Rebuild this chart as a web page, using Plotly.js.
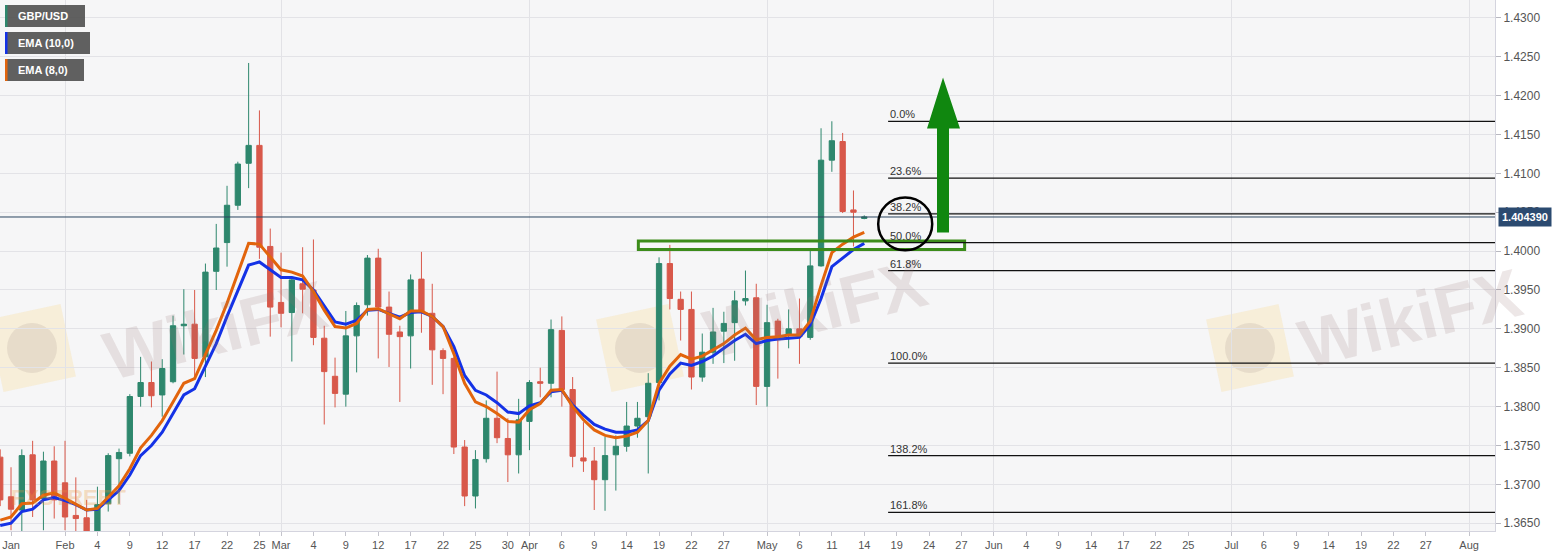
<!DOCTYPE html>
<html>
<head>
<meta charset="utf-8">
<script src="https://cdn.plot.ly/plotly-3.0.1.min.js"></script>
<style>
  html, body { margin: 0; padding: 0; background: #ffffff; }
  #myDiv { width: 1566px; height: 556px; }
</style>
</head>
<body>
<div id="myDiv"></div>
<script>
// GBP/USD daily
const dates = [
    '2021-01-22', '2021-01-25', '2021-01-26', '2021-01-27', '2021-01-28', '2021-01-29',
    '2021-02-01', '2021-02-02', '2021-02-03', '2021-02-04', '2021-02-05',
    '2021-02-08', '2021-02-09', '2021-02-10', '2021-02-11', '2021-02-12',
    '2021-02-15', '2021-02-16', '2021-02-17', '2021-02-18', '2021-02-19',
    '2021-02-22', '2021-02-23', '2021-02-24', '2021-02-25', '2021-02-26',
    '2021-03-01', '2021-03-02', '2021-03-03', '2021-03-04', '2021-03-05',
    '2021-03-08', '2021-03-09', '2021-03-10', '2021-03-11', '2021-03-12',
    '2021-03-15', '2021-03-16', '2021-03-17', '2021-03-18', '2021-03-19',
    '2021-03-22', '2021-03-23', '2021-03-24', '2021-03-25', '2021-03-26',
    '2021-03-29', '2021-03-30', '2021-03-31', '2021-04-01', '2021-04-02',
    '2021-04-05', '2021-04-06', '2021-04-07', '2021-04-08', '2021-04-09',
    '2021-04-12', '2021-04-13', '2021-04-14', '2021-04-15', '2021-04-16',
    '2021-04-19', '2021-04-20', '2021-04-21', '2021-04-22', '2021-04-23',
    '2021-04-26', '2021-04-27', '2021-04-28', '2021-04-29', '2021-04-30',
    '2021-05-03', '2021-05-04', '2021-05-05', '2021-05-06', '2021-05-07',
    '2021-05-10', '2021-05-11', '2021-05-12', '2021-05-13', '2021-05-14'
];

const open = [
    1.3735, 1.3684, 1.3667, 1.3738, 1.3682, 1.3730,
    1.3702, 1.3660, 1.3657, 1.3632, 1.3675,
    1.3733, 1.3740, 1.3813, 1.3831, 1.3815,
    1.3832, 1.3904, 1.3906, 1.3864, 1.3974,
    1.4011, 1.4059, 1.4113, 1.4136, 1.4006,
    1.3934, 1.3921, 1.3958, 1.3950, 1.3888,
    1.3839, 1.3816, 1.3891, 1.3931, 1.3991,
    1.3928, 1.3896, 1.3891, 1.3964, 1.3920,
    1.3872, 1.3862, 1.3748, 1.3685, 1.3733,
    1.3785, 1.3759, 1.3738, 1.3781, 1.3832,
    1.3830, 1.3898, 1.3822, 1.3734, 1.3730,
    1.3706, 1.3738, 1.3749, 1.3775, 1.3787,
    1.3831, 1.3984, 1.3938, 1.3925, 1.3838,
    1.3870, 1.3897, 1.3908, 1.3936, 1.3940,
    1.3826, 1.3910, 1.3893, 1.3900, 1.3889,
    1.3981, 1.4117, 1.4141, 1.4053, 1.4042
];

const high = [
    1.3745, 1.3722, 1.3745, 1.3756, 1.3742, 1.3749,
    1.3756, 1.3709, 1.3680, 1.3697, 1.3740,
    1.3746, 1.3816, 1.3864, 1.3858, 1.3861,
    1.3917, 1.3951, 1.3950, 1.3984, 1.4035,
    1.4084, 1.4115, 1.4242, 1.4181, 1.4029,
    1.3998, 1.3965, 1.4005, 1.4015, 1.3904,
    1.3863, 1.3923, 1.3934, 1.3995, 1.4003,
    1.3948, 1.3904, 1.3970, 1.3999, 1.3958,
    1.3875, 1.3864, 1.3757, 1.3744, 1.3808,
    1.3845, 1.3785, 1.3810, 1.3834, 1.3850,
    1.3912, 1.3916, 1.3838, 1.3780, 1.3748,
    1.3761, 1.3763, 1.3806, 1.3806, 1.3843,
    1.3992, 1.4008, 1.3948, 1.3948, 1.3894,
    1.3927, 1.3922, 1.3949, 1.3975, 1.3958,
    1.3931, 1.3913, 1.3925, 1.3939, 1.4001,
    1.4158, 1.4167, 1.4152, 1.4078, 1.4046
];

const low = [
    1.3672, 1.3641, 1.3640, 1.3658, 1.3641, 1.3656,
    1.3641, 1.3637, 1.3620, 1.3620, 1.3665,
    1.3675, 1.3736, 1.3800, 1.3799, 1.3787,
    1.3830, 1.3867, 1.3837, 1.3838, 1.3950,
    1.3980, 1.4053, 1.4081, 1.3990, 1.3890,
    1.3902, 1.3858, 1.3920, 1.3879, 1.3777,
    1.3799, 1.3800, 1.3844, 1.3917, 1.3862,
    1.3851, 1.3806, 1.3849, 1.3895, 1.3828,
    1.3816, 1.3739, 1.3672, 1.3669, 1.3728,
    1.3753, 1.3703, 1.3714, 1.3744, 1.3812,
    1.3812, 1.3800, 1.3722, 1.3716, 1.3667,
    1.3666, 1.3692, 1.3742, 1.3760, 1.3714,
    1.3808, 1.3925, 1.3885, 1.3822, 1.3832,
    1.3855, 1.3856, 1.3859, 1.3930, 1.3802,
    1.3800, 1.3836, 1.3875, 1.3855, 1.3886,
    1.3980, 1.4102, 1.4049, 1.4006, 1.4041
];

const close = [
    1.3680, 1.3668, 1.3737, 1.3680, 1.3730, 1.3680,
    1.3658, 1.3656, 1.3632, 1.3674, 1.3737,
    1.3741, 1.3813, 1.3831, 1.3814, 1.3849,
    1.3904, 1.3906, 1.3862, 1.3973, 1.4004,
    1.4059, 1.4112, 1.4136, 1.4005, 1.3928,
    1.3920, 1.3963, 1.3951, 1.3889, 1.3845,
    1.3817, 1.3891, 1.3930, 1.3991, 1.3928,
    1.3893, 1.3890, 1.3963, 1.3921, 1.3873,
    1.3862, 1.3748, 1.3685, 1.3732, 1.3785,
    1.3760, 1.3738, 1.3783, 1.3831, 1.3830,
    1.3899, 1.3822, 1.3736, 1.3730, 1.3706,
    1.3737, 1.3749, 1.3775, 1.3785, 1.3830,
    1.3984, 1.3939, 1.3925, 1.3838, 1.3870,
    1.3896, 1.3907, 1.3936, 1.3939, 1.3826,
    1.3908, 1.3886, 1.3900, 1.3890, 1.3981,
    1.4117, 1.4142, 1.4051, 1.4050, 1.4044
];

const ema10 = [
    1.3647, 1.3650, 1.3665, 1.3668, 1.3680, 1.3683,
    1.3679, 1.3674, 1.3667, 1.3668, 1.3680,
    1.3692, 1.3712, 1.3737, 1.3750, 1.3767,
    1.3791, 1.3815, 1.3823, 1.3851, 1.3881,
    1.3916, 1.3950, 1.3982, 1.3986, 1.3976,
    1.3966, 1.3966, 1.3963, 1.3950, 1.3929,
    1.3909, 1.3906, 1.3911, 1.3924, 1.3925,
    1.3920, 1.3915, 1.3921, 1.3922, 1.3916,
    1.3903, 1.3877, 1.3840, 1.3821, 1.3815,
    1.3805, 1.3793, 1.3791, 1.3801, 1.3805,
    1.3819, 1.3821, 1.3802, 1.3789, 1.3777,
    1.3771, 1.3767, 1.3767, 1.3770, 1.3782,
    1.3821, 1.3842, 1.3856, 1.3853, 1.3858,
    1.3865, 1.3875, 1.3885, 1.3893, 1.3881,
    1.3885, 1.3887, 1.3888, 1.3889, 1.3905,
    1.3939, 1.3980, 1.3991, 1.4002, 1.4010
];

const ema8 = [
    1.3654, 1.3658, 1.3675, 1.3676, 1.3686, 1.3689,
    1.3682, 1.3675, 1.3667, 1.3669, 1.3684,
    1.3698, 1.3720, 1.3747, 1.3763, 1.3782,
    1.3806, 1.3830, 1.3836, 1.3868, 1.3898,
    1.3933, 1.3971, 1.4010, 1.4009, 1.3993,
    1.3976, 1.3973, 1.3968, 1.3948, 1.3924,
    1.3903, 1.3901, 1.3907, 1.3925, 1.3926,
    1.3920, 1.3913, 1.3923, 1.3923, 1.3916,
    1.3903, 1.3868, 1.3830, 1.3806, 1.3800,
    1.3791, 1.3781, 1.3780, 1.3796, 1.3804,
    1.3821, 1.3822, 1.3800, 1.3783, 1.3770,
    1.3763, 1.3760, 1.3762, 1.3767, 1.3782,
    1.3830, 1.3852, 1.3867, 1.3861, 1.3865,
    1.3873, 1.3881, 1.3892, 1.3901, 1.3886,
    1.3889, 1.3890, 1.3892, 1.3892, 1.3910,
    1.3956, 1.3998, 1.4009, 1.4018, 1.4024
];

const fibLevels = [1.4167, 1.4094, 1.4048, 1.4011, 1.3975, 1.3856, 1.3737, 1.3664];
const fibLabels = ['0.0%', '23.6%', '38.2%', '50.0%', '61.8%', '100.0%', '138.2%', '161.8%'];

const lastPrice = 1.404390;

const tickDates = [
    '2021-01-25', '2021-02-01', '2021-02-04', '2021-02-09', '2021-02-12', '2021-02-17',
    '2021-02-22', '2021-02-25', '2021-03-01', '2021-03-04', '2021-03-09', '2021-03-12',
    '2021-03-17', '2021-03-22', '2021-03-25', '2021-03-30', '2021-04-01', '2021-04-06',
    '2021-04-09', '2021-04-14', '2021-04-19', '2021-04-22', '2021-04-27', '2021-05-03',
    '2021-05-06', '2021-05-11', '2021-05-14', '2021-05-19', '2021-05-24', '2021-05-27',
    '2021-06-01', '2021-06-04', '2021-06-09', '2021-06-14', '2021-06-17', '2021-06-22',
    '2021-06-25', '2021-07-01', '2021-07-06', '2021-07-09', '2021-07-14', '2021-07-19',
    '2021-07-22', '2021-07-27', '2021-08-02'
];
const tickLabels = [
    'Jan', 'Feb', '4', '9', '12', '17',
    '22', '25', 'Mar', '4', '9', '12',
    '17', '22', '25', '30', 'Apr', '6',
    '9', '14', '19', '22', '27', 'May',
    '6', '11', '14', '19', '24', '27',
    'Jun', '4', '9', '14', '17', '22',
    '25', 'Jul', '6', '9', '14', '19',
    '22', '27', 'Aug'
];
const monthStarts = ['2021-02-01', '2021-03-01', '2021-04-01', '2021-05-03', '2021-06-01', '2021-07-01', '2021-08-02'];

const GREEN = '#2e876d';
const RED = '#d8584a';
const BLUE = '#1432e6';
const ORANGE = '#e2640c';

const config = {
    displayModeBar: false,
    staticPlot: true
};

var data = [
    {
        type: 'candlestick',
        x: dates,
        open: open,
        high: high,
        low: low,
        close: close,
        whiskerwidth: 0,
        showlegend: false,
        hoverinfo: 'skip',
        increasing: { line: { color: GREEN, width: 1 }, fillcolor: GREEN },
        decreasing: { line: { color: RED, width: 1 }, fillcolor: RED }
    },
    {
        type: 'scatter',
        mode: 'lines',
        x: dates,
        y: ema10,
        showlegend: false,
        line: { color: BLUE, width: 3 }
    },
    {
        type: 'scatter',
        mode: 'lines',
        x: dates,
        y: ema8,
        showlegend: false,
        line: { color: ORANGE, width: 3 }
    }
];

// fib lines start right of the last candle
var fibStart = '2021-05-18 05:00';
var shapes = [];
var annotations = [];

// faint watermark logos: tilted square + grey disc, pixels from plot top-left
function tiltedSquare(cx, cy, half, deg) {
    var a = deg * Math.PI / 180;
    var pts = [[-half, -half], [half, -half], [half, half], [-half, half]].map(function (p) {
        var x = cx + p[0] * Math.cos(a) - p[1] * Math.sin(a);
        var y = cy + p[0] * Math.sin(a) + p[1] * Math.cos(a);
        return x.toFixed(1) + ',' + (-y).toFixed(1);
    });
    return 'M' + pts.join(' L') + ' Z';
}
[[32, 348], [640, 348], [1250, 348]].forEach(function (c) {
    shapes.push({
        type: 'path', layer: 'below',
        xref: 'paper', xsizemode: 'pixel', xanchor: 0,
        yref: 'paper', ysizemode: 'pixel', yanchor: 1,
        path: tiltedSquare(c[0], c[1], 37, -12),
        fillcolor: 'rgba(250,220,150,0.30)', line: { width: 0 }
    });
    shapes.push({
        type: 'circle', layer: 'below',
        xref: 'paper', xsizemode: 'pixel', xanchor: 0, x0: c[0] - 25, x1: c[0] + 25,
        yref: 'paper', ysizemode: 'pixel', yanchor: 1, y0: -(c[1] - 25), y1: -(c[1] + 25),
        fillcolor: 'rgba(120,100,100,0.13)', line: { width: 0 }
    });
});

[[215, 330], [815, 308], [1410, 318]].forEach(function (p) {
    annotations.push({
        xref: 'paper', x: p[0] / 1495, yref: 'paper', y: 1 - p[1] / 531,
        xanchor: 'center', yanchor: 'middle',
        text: 'WikiFX', showarrow: false, textangle: -14,
        font: { family: 'Liberation Sans', size: 68, color: 'rgba(150,115,115,0.17)', weight: 'bold' }
    });
});

annotations.push({
    xref: 'paper', x: 68 / 1495, yref: 'paper', y: 1 - 497 / 531,
    xanchor: 'center', yanchor: 'middle',
    text: 'FXSTREET', showarrow: false,
    font: { family: 'Liberation Sans', size: 22, color: 'rgba(235,150,60,0.30)', weight: 'bold' }
});

// support zone
shapes.push({
    type: 'rect', xref: 'x', yref: 'y',
    x0: '2021-04-15 02:00', x1: '2021-05-27 07:00',
    y0: 1.4002, y1: 1.4013,
    line: { color: '#3c8c1a', width: 3 }
});

// fib retracement
fibLevels.forEach(function (lvl, i) {
    shapes.push({
        type: 'line', xref: 'x', yref: 'y',
        x0: fibStart, x1: '2021-08-20', y0: lvl, y1: lvl,
        line: { color: '#111111', width: 1.3 }
    });
    annotations.push({
        xref: 'x', x: fibStart, yref: 'y', y: lvl,
        xanchor: 'left', yanchor: 'bottom', showarrow: false,
        text: fibLabels[i], xshift: 0, yshift: -1,
        font: { family: 'Liberation Sans', size: 11, color: '#333333' }
    });
});

// last price line
shapes.push({
    type: 'line', xref: 'paper', x0: 0, x1: 1, yref: 'y', y0: lastPrice, y1: lastPrice,
    line: { color: '#2a4560', width: 1 }
});

// circle around 38.2 / 50.0
shapes.push({
    type: 'circle', xref: 'x', yref: 'y',
    x0: '2021-05-17 07:00', x1: '2021-05-24 07:00',
    y0: 1.4001, y1: 1.4069,
    line: { color: '#000000', width: 2.5 }
});

// green up arrow
shapes.push({
    type: 'path',
    xref: 'x', xsizemode: 'pixel', xanchor: '2021-05-25 07:00',
    yref: 'y', ysizemode: 'pixel', yanchor: 1.4024,
    path: 'M-6,0 L6,0 L6,104 L17,104 L0,155 L-16,104 L-6,104 Z',
    fillcolor: '#10870f', line: { width: 0 }
});

// legend tags top-left
var tags = [
    { text: 'GBP/USD', color: GREEN, top: 5, w: 80 },
    { text: 'EMA (10,0)', color: BLUE, top: 32, w: 85 },
    { text: 'EMA (8,0)', color: ORANGE, top: 59, w: 79 }
];
tags.forEach(function (t) {
    shapes.push({
        type: 'rect',
        xref: 'paper', xsizemode: 'pixel', xanchor: 0, x0: 5, x1: 5 + t.w,
        yref: 'paper', ysizemode: 'pixel', yanchor: 1, y0: -t.top, y1: -(t.top + 22),
        fillcolor: 'rgba(82,82,82,0.92)', line: { width: 0 }
    });
    shapes.push({
        type: 'rect',
        xref: 'paper', xsizemode: 'pixel', xanchor: 0, x0: 5, x1: 7.5,
        yref: 'paper', ysizemode: 'pixel', yanchor: 1, y0: -t.top, y1: -(t.top + 22),
        fillcolor: t.color, line: { width: 0 }
    });
    annotations.push({
        xref: 'paper', x: 0, xanchor: 'left', xshift: 16,
        yref: 'paper', y: 1, yanchor: 'middle', yshift: -(t.top + 11),
        text: t.text, showarrow: false,
        font: { family: 'Liberation Sans', size: 11, color: '#ffffff', weight: 'bold' }
    });
});

// price tag on the axis
annotations.push({
    xref: 'paper', x: 1, xanchor: 'left', xshift: 3,
    yref: 'y', y: lastPrice, yanchor: 'middle',
    text: lastPrice.toFixed(6), showarrow: false,
    bgcolor: '#2b4a70', borderpad: 3,
    font: { family: 'Liberation Sans', size: 11, color: '#ffffff', weight: 'bold' }
});

var layout = {
    width: 1566,
    height: 556,
    margin: { l: 0, r: 71, t: 0, b: 25, pad: 0 },
    paper_bgcolor: '#ffffff',
    plot_bgcolor: '#f6f6f7',
    font: { family: 'Liberation Sans', size: 11, color: '#555555' },
    showlegend: false,
    hovermode: false,
    xaxis: {
        type: 'date',
        range: ['2021-01-21 23:30', '2021-08-04 09:36'],
        rangebreaks: [{ bounds: ['sat', 'mon'] }],
        rangeslider: { visible: false },
        tickmode: 'array',
        tickvals: tickDates,
        ticktext: tickLabels,
        showgrid: false,
        ticks: 'outside',
        ticklen: 4,
        tickcolor: '#c4c4cc',
        tickfont: { size: 11, color: '#555555' },
        showline: true,
        linecolor: '#d4d4de',
        mirror: true,
        minor: {
            tickmode: 'array',
            tickvals: monthStarts,
            showgrid: true,
            gridcolor: '#e2e2e6',
            ticks: ''
        }
    },
    yaxis: {
        side: 'right',
        range: [1.3640, 1.4323],
        tick0: 1.365,
        dtick: 0.005,
        tickformat: '.4f',
        showgrid: true,
        gridcolor: '#e3e3e7',
        zeroline: false,
        ticks: 'outside',
        ticklen: 5,
        tickcolor: '#b8b8c0',
        tickfont: { size: 12, color: '#555555' },
        showline: true,
        linecolor: '#d4d4de',
        mirror: true
    },
    shapes: shapes,
    annotations: annotations
};

Plotly.newPlot('myDiv', data, layout, config);
</script>
</body>
</html>
